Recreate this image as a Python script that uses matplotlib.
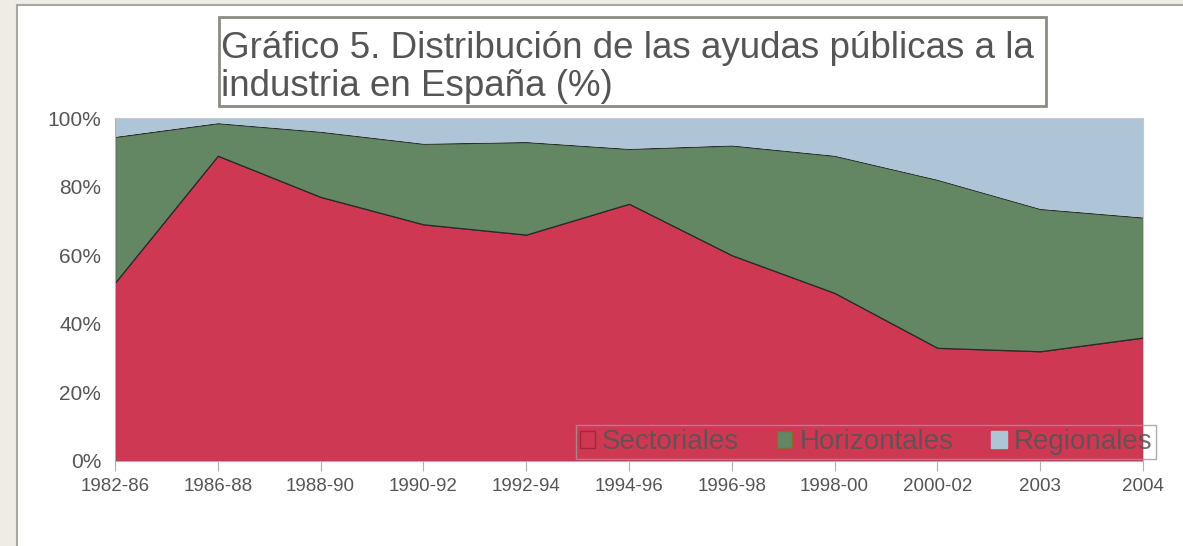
import matplotlib
matplotlib.use('Agg')
import matplotlib.pyplot as plt
from matplotlib.patches import Rectangle, Patch
from matplotlib.ticker import FuncFormatter

periodos = ['1982-86', '1986-88', '1988-90', '1990-92', '1992-94', '1994-96',
            '1996-98', '1998-00', '2000-02', '2003', '2004']
sectoriales = [52, 89, 77, 69, 66, 75, 60, 49, 33, 32, 36]
horizontales = [42.5, 9.5, 19, 23.5, 27, 16, 32, 40, 49, 41.5, 35]
regionales = [5.5, 1.5, 4, 7.5, 7, 9, 8, 11, 18, 26.5, 29]

titulo = 'Gráfico 5. Distribución de las ayudas públicas a la\nindustria en España (%)'
series = ['Sectoriales', 'Horizontales', 'Regionales']
colores = ['#cf3852', '#628762', '#adc5d6']

plt.rcParams['font.family'] = ['Liberation Sans', 'DejaVu Sans']

W, H = 1183, 546
fig = plt.figure(figsize=(W / 100, H / 100), dpi=100)
fig.patch.set_facecolor('#eeece4')

# rectangles given in pixel coords (origin top-left)
def px_rect(x0, y0, x1, y1, **kw):
    return Rectangle((x0 / W, 1 - y1 / H), (x1 - x0) / W, (y1 - y0) / H,
                     transform=fig.transFigure, **kw)

# white panel with grey border
fig.patches.append(px_rect(17, 5, W + 5, H + 5, facecolor='white',
                           edgecolor='#a8a8a0', linewidth=1.5, zorder=-10))

# title box
fig.patches.append(px_rect(219, 17, 1046, 106, facecolor='white',
                           edgecolor='#8c8c84', linewidth=2, zorder=-5))
fig.text(221 / W, 1 - 96 / H, titulo, ha='left', va='baseline', fontsize=26.5,
         color='#555555', linespacing=1.12)

ax = fig.add_axes([115 / W, 1 - 461 / H, (1143 - 115) / W, (461 - 118) / H])
x = list(range(len(periodos)))
polys = ax.stackplot(x, sectoriales, horizontales, regionales, colors=colores,
                     edgecolor='#2a2a2a', linewidth=0.9)
polys[2].set_edgecolor('none')

ax.set_xlim(0, len(periodos) - 1)
ax.set_ylim(0, 100)
ax.set_xticks(x)
ax.set_xticklabels(periodos)
ax.set_yticks(range(0, 101, 20))
ax.yaxis.set_major_formatter(FuncFormatter(lambda v, p: '%d%%' % v))

for s in ['top', 'right']:
    ax.spines[s].set_color('#c8c8c8')
ax.spines['left'].set_color('#b0b0b0')
ax.spines['bottom'].set_color('#b0b0b0')
ax.tick_params(axis='x', length=7, color='#b0b0b0', labelsize=13.5,
               labelcolor='#555555', pad=5)
ax.tick_params(axis='y', length=0, labelsize=15, labelcolor='#555555', pad=10)

handles = [Patch(facecolor=colores[0], edgecolor='#a02838'),
           Patch(facecolor=colores[1], edgecolor='#8a6a30'),
           Patch(facecolor=colores[2], edgecolor=colores[2])]
leg = fig.legend(handles, series, ncol=3, loc='center',
                 bbox_to_anchor=(866 / W, 1 - 442 / H), fontsize=20,
                 frameon=True, fancybox=False, handlelength=0.55,
                 handleheight=0.55, handletextpad=0.25, columnspacing=1.37,
                 borderpad=0.15, borderaxespad=0)
leg.get_frame().set_facecolor('none')
leg.get_frame().set_edgecolor('#999999')
for t in leg.get_texts():
    t.set_color('#555555')
    t.set_alpha(0.85)

fig.savefig('out.png', dpi=100, facecolor=fig.get_facecolor())
